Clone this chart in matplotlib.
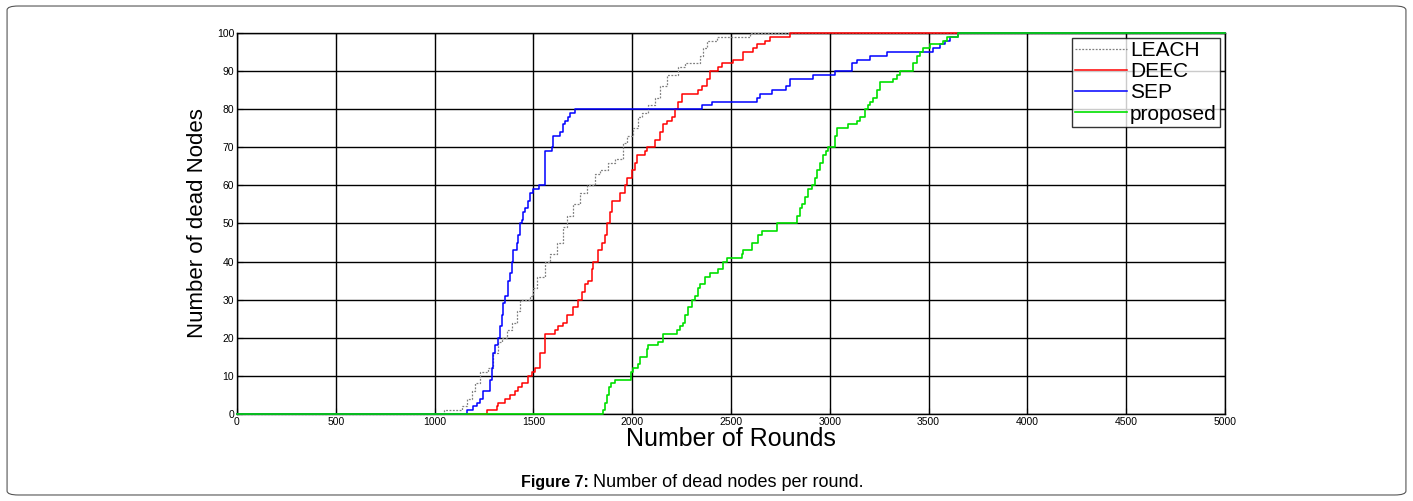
import matplotlib.pyplot as plt
from matplotlib.patches import FancyBboxPatch

# rounds at which the number of dead nodes changes (step curves)
leach_r = [0, 1048, 1137, 1162, 1188, 1204, 1230, 1272, 1297, 1322,
           1339, 1365, 1390, 1415, 1432, 1483, 1499, 1516, 1558, 1584,
           1618, 1651, 1668, 1702, 1736, 1770, 1811, 1837, 1879, 1913,
           1955, 1972, 2005, 2031, 2048, 2081, 2115, 2140, 2174, 2233,
           2267, 2343, 2360, 2377, 2427, 2596, 5000]
leach_v = [0, 1, 2, 4, 6, 8, 11, 12, 16, 19,
           20, 22, 24, 27, 30, 31, 33, 36, 40, 42,
           45, 49, 52, 55, 58, 60, 63, 64, 66, 67,
           71, 73, 75, 78, 79, 81, 83, 86, 89, 91,
           92, 94, 96, 98, 99, 100, 100]

deec_r = [0, 1267, 1314, 1322, 1356, 1381, 1407, 1423, 1441, 1474,
          1491, 1508, 1533, 1558, 1609, 1626, 1651, 1668, 1702, 1727,
          1744, 1761, 1778, 1795, 1803, 1828, 1845, 1862, 1871, 1887,
          1896, 1938, 1963, 1972, 1997, 2014, 2022, 2065, 2073, 2115,
          2140, 2157, 2174, 2199, 2216, 2233, 2250, 2334, 2351, 2377,
          2393, 2436, 2452, 2511, 2562, 2612, 2630, 2672, 2697, 2798, 5000]
deec_v = [0, 1, 2, 3, 4, 5, 6, 7, 8, 10,
          11, 12, 16, 21, 22, 23, 24, 26, 28, 30,
          32, 34, 35, 38, 40, 43, 45, 47, 50, 53,
          56, 58, 60, 62, 64, 66, 68, 69, 70, 72,
          74, 76, 77, 78, 80, 82, 84, 85, 86, 88,
          90, 91, 92, 93, 95, 96, 97, 98, 99, 100, 100]

sep_r = [0, 1166, 1196, 1213, 1230, 1247, 1280, 1289, 1297, 1306,
         1322, 1331, 1339, 1348, 1356, 1373, 1381, 1390, 1398, 1415,
         1423, 1432, 1441, 1449, 1457, 1474, 1483, 1499, 1530, 1558,
         1592, 1600, 1634, 1651, 1660, 1677, 1685, 1710, 2351, 2402,
         2630, 2646, 2705, 2780, 2798, 2916, 3026, 3110, 3136, 3203,
         3288, 3524, 3560, 3583, 3608, 3650, 5000]
sep_v = [0, 1, 2, 3, 4, 6, 9, 12, 16, 18,
         20, 23, 26, 29, 31, 35, 37, 40, 43, 45,
         47, 50, 51, 53, 54, 56, 58, 59, 60, 69,
         70, 73, 74, 76, 77, 78, 79, 80, 81, 82,
         83, 84, 85, 86, 88, 89, 90, 92, 93, 94,
         95, 96, 97, 98, 99, 100, 100]

prop_r = [0, 1852, 1862, 1872, 1883, 1895, 1913, 1994, 2005, 2031,
          2039, 2073, 2081, 2132, 2157, 2225, 2242, 2258, 2267, 2284,
          2301, 2317, 2334, 2343, 2368, 2393, 2436, 2461, 2478, 2554,
          2562, 2604, 2638, 2655, 2731, 2832, 2849, 2857, 2874, 2891,
          2911, 2925, 2933, 2950, 2967, 2979, 2992, 3026, 3034, 3093,
          3136, 3152, 3178, 3194, 3203, 3220, 3237, 3254, 3321, 3338,
          3355, 3422, 3439, 3456, 3473, 3507, 3574, 3591, 3650, 5000]
prop_v = [0, 1, 3, 5, 7, 8, 9, 11, 12, 13,
          15, 17, 18, 19, 21, 22, 23, 24, 26, 28,
          30, 31, 33, 34, 36, 37, 38, 40, 41, 42,
          43, 45, 47, 48, 50, 52, 54, 55, 57, 59,
          60, 62, 64, 66, 68, 69, 70, 73, 75, 76,
          77, 78, 80, 81, 82, 83, 85, 87, 88, 89,
          90, 92, 94, 95, 96, 97, 98, 99, 100, 100]

x_ticks = list(range(0, 5001, 500))
y_ticks = list(range(0, 101, 10))

plt.rcParams['font.family'] = ['Liberation Sans', 'DejaVu Sans']

fig = plt.figure(figsize=(14.13, 5.01), dpi=100)
ax = fig.add_axes([0.1677, 0.1737, 0.6993, 0.7605])

ax.plot(leach_r, leach_v, drawstyle='steps-post', color='#808080', lw=0.9,
        ls=(0, (1.5, 1.2)), label='LEACH', zorder=3, clip_on=False)
ax.plot(deec_r, deec_v, drawstyle='steps-post', color='#ff0000', lw=1.1, label='DEEC',
        zorder=3, clip_on=False)
ax.plot(sep_r, sep_v, drawstyle='steps-post', color='#0000ff', lw=1.1, label='SEP',
        zorder=3, clip_on=False)
ax.plot(prop_r, prop_v, drawstyle='steps-post', color='#00e000', lw=1.2, label='proposed',
        zorder=4, clip_on=False)

ax.set_xlim(0, 5000)
ax.set_ylim(0, 100)
ax.set_xticks(x_ticks)
ax.set_yticks(y_ticks)
ax.grid(True, color='black', lw=1.0, ls='-')
ax.set_axisbelow(True)
ax.tick_params(direction='in', top=True, right=True, labelsize=7.5, length=4, pad=2)
for s in ax.spines.values():
    s.set_linewidth(1.0)
    s.set_zorder(2)

ax.set_xlabel('Number of Rounds', fontsize=18, labelpad=0)
ax.set_ylabel('Number of dead Nodes', fontsize=16, labelpad=6)

leg = ax.legend(loc='upper right', fontsize=15, frameon=True, fancybox=False,
                borderpad=0.15, labelspacing=0.1, handlelength=2.5, handletextpad=0.15,
                borderaxespad=0.25)
leg.get_frame().set_edgecolor('black')
leg.get_frame().set_linewidth(1.0)
leg.set_zorder(5)

# outer frame and caption
fig.patches.append(FancyBboxPatch((0.005, 0.012), 0.99, 0.976, boxstyle='round,pad=0,rounding_size=0.008',
                                  transform=fig.transFigure, fill=False, ec='#555555', lw=0.8))
fig.text(0.4170, 0.036, 'Figure 7:', ha='right', va='center', fontsize=11.5, fontweight='bold')
fig.text(0.4200, 0.036, 'Number of dead nodes per round.', ha='left', va='center', fontsize=13)

fig.savefig('out.png', dpi=100)
